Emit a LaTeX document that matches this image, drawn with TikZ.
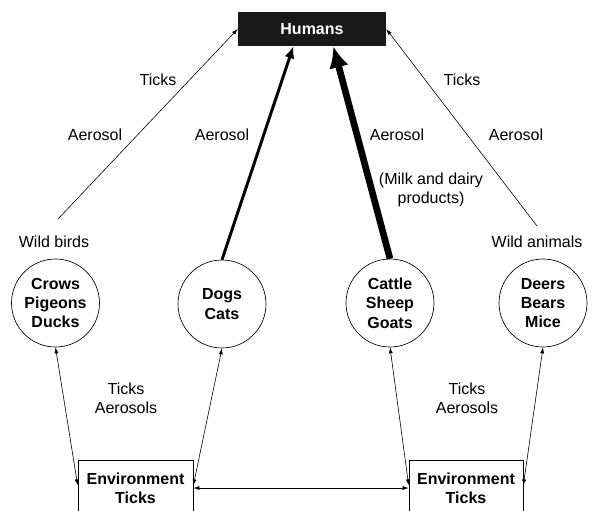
\documentclass[tikz,border=0pt]{standalone}
\usepackage{fontspec}
\setmainfont{Liberation Sans}
\usepackage{tikz}
\usetikzlibrary{arrows.meta}
\tikzset{
	animal/.style={circle,draw,line width=0.5pt,minimum size=66pt,inner sep=0pt,align=center,font=\bfseries},
	envbox/.style={draw,line width=0.5pt,minimum height=42pt,inner sep=0pt,align=center,font=\bfseries},
	lbl/.style={align=center,inner sep=1pt},
	thinarrow/.style={line width=0.45pt,-{Latex[length=4.5pt,width=3pt]}},
	twoway/.style={line width=0.45pt,{Latex[length=4.5pt,width=3pt]}-{Latex[length=4.5pt,width=3pt]}}
}

\begin{document}
\fontsize{12}{14.5}\selectfont
\begin{tikzpicture}[x=0.75pt,y=-0.75pt]
		\useasboundingbox (0,0) rectangle (592,510);
		\clip (0,0) rectangle (592,510);
		% top box
		\node [fill=black!90,text=white,font=\bfseries,minimum width=111pt,minimum height=25.5pt,inner sep=0pt] (humans) at (312,29) {Humans};
		% animal groups
		\node [animal] (crows) at (55.5,303) {Crows\\Pigeons\\Ducks};
		\node [animal] (dogs) at (222,304) {Dogs\\Cats};
		\node [animal] (cattle) at (390,303) {Cattle\\Sheep\\Goats};
		\node [animal] (deers) at (543,303) {Deers\\Bears\\Mice};
		% environment boxes, open at the bottom edge
		\node [envbox,minimum width=86.25pt] (envleft) at (135.5,488) {Environment\\Ticks};
		\node [envbox,minimum width=85.5pt] (envright) at (466,488) {Environment\\Ticks};
		% labels
		\node [lbl] (birds) at (54,242) {Wild birds};
		\node [lbl] (wildanimals) at (537,242) {Wild animals};
		\node [lbl] (ticksleft) at (158,80) {Ticks};
		\node [lbl] (aerosola) at (95,135) {Aerosol};
		\node [lbl] (aerosolb) at (222,135) {Aerosol};
		\node [lbl] (aerosolc) at (397,135) {Aerosol};
		\node [lbl] (aerosold) at (516,135) {Aerosol};
		\node [lbl] (ticksright) at (462,80) {Ticks};
		\node [lbl] (milk) at (431,190) {(Milk and dairy\\products)};
		\node [lbl] (ticksaeroleft) at (126,398) {Ticks\\Aerosols};
		\node [lbl] (ticksaeroright) at (467,398) {Ticks\\Aerosols};
		\coordinate (birdstail) at (58,219);
		\coordinate (animalstail) at (537,226);
		% routes to humans
		\draw [thinarrow] (birdstail) -- (humans.west);
		\draw [thinarrow] (animalstail) -- (humans.east);
		\draw [line width=2.2pt,-{Latex[length=9pt,width=7.5pt]}] (dogs.north) -- ([xshift=-14pt]humans.south);
		\draw [line width=5pt,-{Latex[length=16pt,width=15pt]}] (cattle.north) -- ([xshift=16pt]humans.south);
		% exchange with the environment
		\draw [twoway] (crows.south) -- ([yshift=2pt]envleft.west);
		\draw [twoway] (dogs.south) -- ([yshift=2pt]envleft.east);
		\draw [twoway] (cattle.south) -- ([yshift=2pt]envright.west);
		\draw [twoway] (deers.south) -- ([yshift=2pt]envright.east);
		\draw [twoway] (envleft.east) -- (envright.west);
	\end{tikzpicture}
\end{document}
